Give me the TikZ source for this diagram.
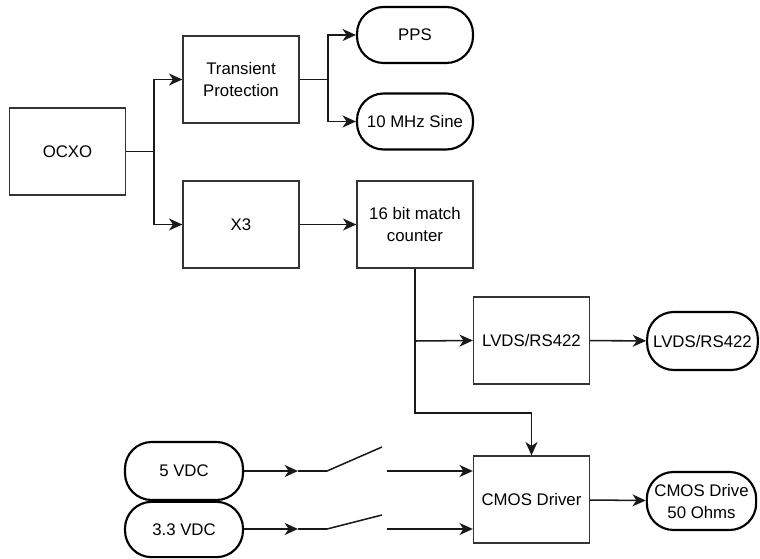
\documentclass[tikz,border=0pt]{standalone}
\usepackage{fontspec}
\setmainfont{Liberation Sans}
\usetikzlibrary{arrows.meta,calc}
\begin{document}
\begin{tikzpicture}[x=0.75pt,y=-0.75pt,
  box/.style={draw=black!80,line width=1pt,minimum width=87pt,minimum height=65.25pt,align=center,inner sep=1pt,font=\fontsize{12.6}{16.5}\selectfont},
  term/.style={draw=black,line width=1.6pt,minimum width=87pt,minimum height=42pt,rounded corners=20pt,align=center,inner sep=1pt,font=\fontsize{12.6}{16.5}\selectfont},
  conn/.style={draw=black!90,line width=1.15pt},
  arr/.style={conn,-{Stealth[length=10pt,width=9pt,inset=3pt]}}]
\useasboundingbox (0,0) rectangle (760,559);
\node[box] (ocxo) at (67.5,151.5) {OCXO};
\node[box] (tp) at (241,79.5) {Transient\\Protection};
\node[box] (x3) at (241,224.5) {X3};
\node[term] (pps) at (415,35) {PPS};
\node[term] (sine) at (415,121.5) {10 MHz Sine};
\node[box] (cnt) at (415,224.5) {16 bit match\\counter};
\node[box] (lvds) at (531.5,340.5) {LVDS/RS422};
\node[term,minimum width=83pt,minimum height=43.5pt] (lvdso) at (702.5,341) {LVDS/RS422};
\node[box] (cmos) at (531.5,499.5) {CMOS Driver};
\node[term,minimum width=82pt,minimum height=43.5pt,font=\fontsize{12.6}{16.5}\selectfont] (cmoso) at (701.5,501) {CMOS Drive\\50 Ohms};
\node[term,minimum width=88.5pt,minimum height=43.5pt] (v5) at (184,471) {5 VDC};
\node[term,minimum width=88.5pt,minimum height=41.5pt] (v33) at (184,529.5) {3.3 VDC};
% junctions
\coordinate (j1) at (154,151.5);
\coordinate (j2) at (328,79.5);
\coordinate (j3) at (415,341);
\coordinate (j4) at (415,413);
\draw[conn] (ocxo.east) -- (j1);
\draw[arr] (j1) |- (tp.west);
\draw[arr] (j1) |- (x3.west);
\draw[conn] (tp.east) -- (j2);
\draw[arr] (j2) |- (pps.west);
\draw[arr] (j2) |- (sine.west);
\draw[arr] (x3) -- (cnt);
\draw[arr] (cnt.south) -- (j4) -| (cmos.north);
\draw[arr] (j3) -- (lvds.west);
\draw[arr] (lvds) -- (lvdso);
\draw[arr] (cmos) -- (cmoso);
% switches
\coordinate (s1a) at (298,471);
\coordinate (s1b) at (327,471);
\coordinate (s1c) at (382,447);
\coordinate (s1d) at (387,471);
\coordinate (s2a) at (298,529);
\coordinate (s2b) at (327,529);
\coordinate (s2c) at (382,515);
\coordinate (s2d) at (387,529);
\draw[arr] (v5.east |- s1a) -- (s1a);
\draw[conn] (s1a) -- (s1b) -- (s1c);
\draw[arr] (s1d) -- (s1d -| cmos.west);
\draw[arr] (v33.east |- s2a) -- (s2a);
\draw[conn] (s2a) -- (s2b) -- (s2c);
\draw[arr] (s2d) -- (s2d -| cmos.west);
\end{tikzpicture}
\end{document}
